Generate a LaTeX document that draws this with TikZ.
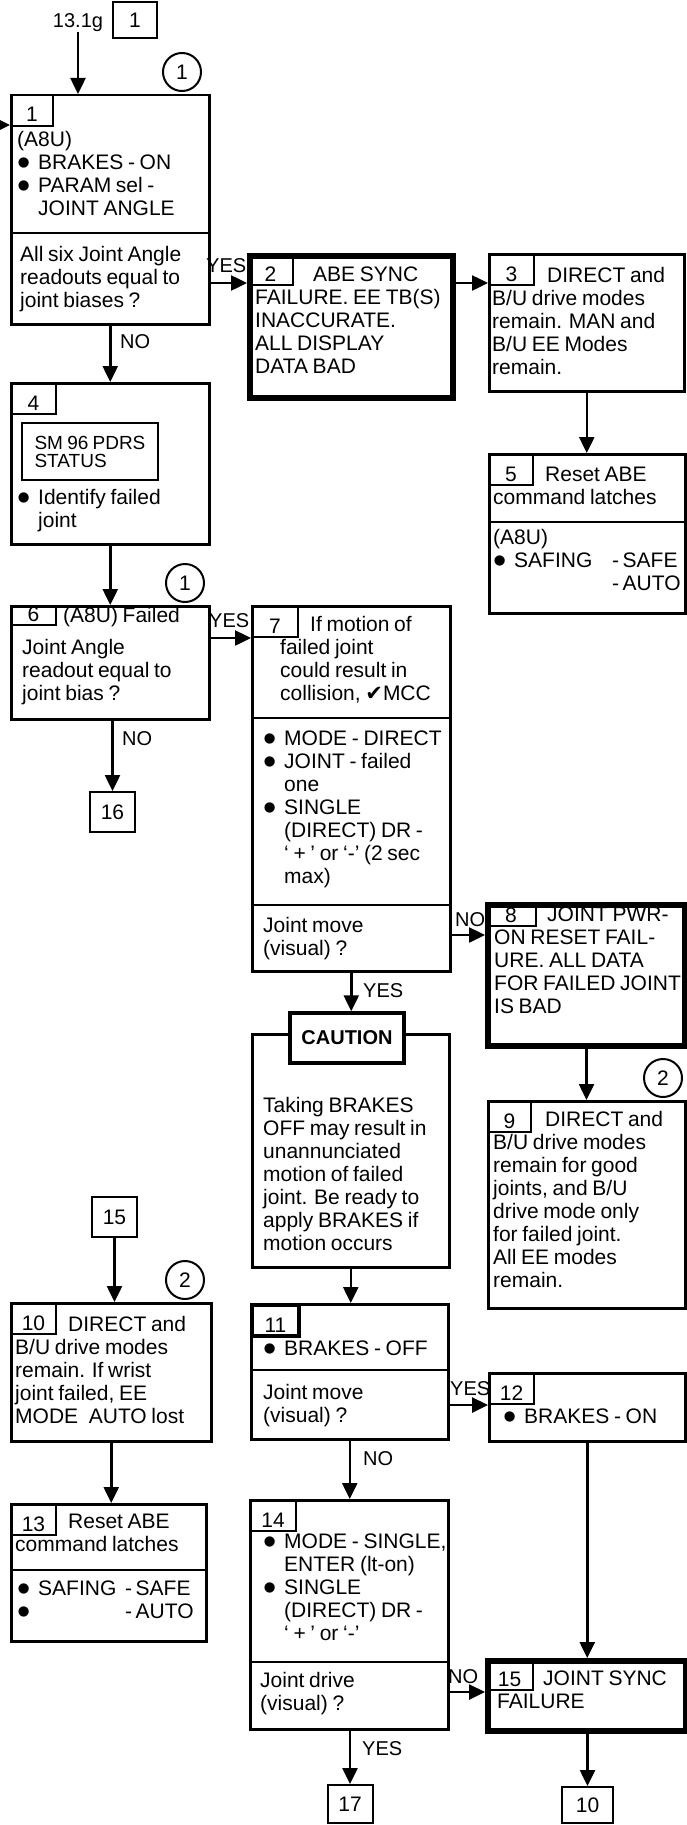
\documentclass[tikz,border=0pt]{standalone}
\usepackage{fontspec}
\setmainfont{Liberation Sans}[WordSpace=0.8]
\newfontfamily\checkfont{DejaVu Sans}
\usetikzlibrary{arrows.meta}

\newcommand\bul{\makebox[21pt][l]{\raisebox{-6pt}{\scalebox{1.8}{\textbullet}}}}
\newcommand\ind{\hspace*{21pt}}

\begin{document}
\begin{tikzpicture}[
    x=1pt, y=-1pt,
    box/.style={draw, line width=2.5pt, anchor=north west, inner sep=0pt},
    boldbox/.style={box, line width=6pt},
    tab/.style={draw, line width=2pt, anchor=north west, inner sep=0pt, minimum width=45pt, text height=27pt, text depth=4pt, font=\fontsize{21}{23}\selectfont},
    txt/.style={anchor=north west, yshift=16pt, inner sep=0pt, align=left, font=\fontsize{21}{23}\selectfont, execute at begin node={\rule{0pt}{16pt}}},
    lbl/.style={anchor=base west, inner sep=0pt, font=\fontsize{20}{22}\selectfont},
    refbox/.style={draw, line width=2pt, minimum width=45pt, minimum height=40pt, inner sep=0pt, font=\fontsize{21}{23}\selectfont},
    conn/.style={draw, circle, line width=2pt, minimum size=38pt, inner sep=0pt, font=\fontsize{21}{23}\selectfont},
    cautionbox/.style={draw, line width=3.5pt, fill=white, minimum width=114pt, minimum height=50pt, inner sep=0pt, font=\fontsize{20}{22}\selectfont\bfseries},
    divider/.style={line width=2.5pt},
    arr/.style={line width=2.5pt, -{Triangle[width=15pt,length=16pt]}}
]
\useasboundingbox (0,0) rectangle (686,1825);

% entry
\node[lbl, anchor=base] (src) at (78,28) {13.1g};
\node[refbox, minimum width=44pt, minimum height=36pt] (r1) at (135,20) {1};
\coordinate (in1) at (0,125);

% step 1
\node[box, minimum width=198pt, minimum height=229pt] (b1) at (10,94) {};
\node[tab, minimum width=42pt] (t1) at (b1.north west) {1};
\draw[divider] (b1.west |- 0,233) -- (b1.east |- 0,233);
\node[txt] (x1a) at (17,147) {(A8U)\\\bul BRAKES - ON\\\bul PARAM sel -\\\ind JOINT ANGLE};
\node[txt] (x1b) at (20,262) {All six Joint Angle\\readouts equal to\\joint biases ?};
\node[conn] (c1) at (182,72) {1};

% steps 2 and 3
\node[boldbox, minimum width=203pt, minimum height=142pt] (b2) at (247,253) {};
\node[tab] (t2) at (b2.north west) {2};
\node[txt] (x2) at (255,283) {\hspace*{58pt}ABE SYNC\\FAILURE.  EE TB(S)\\INACCURATE.\\ALL DISPLAY\\DATA BAD};

\node[box, minimum width=195pt, minimum height=137pt] (b3) at (488,253) {};
\node[tab] (t3) at (b3.north west) {3};
\node[txt] (x3) at (492,283) {\hspace*{55pt}DIRECT and\\B/U drive modes\\remain.  MAN and\\B/U EE Modes\\remain.};

% step 5
\node[box, minimum width=196pt, minimum height=159pt] (b5) at (488,453) {};
\node[tab, minimum width=44pt] (t5) at (b5.north west) {5};
\draw[divider] (b5.west |- 0,522) -- (b5.east |- 0,522);
\node[txt] (x5a) at (493,483) {\hspace*{52pt}Reset ABE\\command latches};
\node[txt] (x5b) at (493,545) {(A8U)\\\bul\makebox[98pt][l]{SAFING}-\,SAFE\\\hspace*{119pt}-\,AUTO};

% step 4
\node[box, minimum width=198pt, minimum height=161pt] (b4) at (10,382) {};
\node[tab] (t4) at (b4.north west) {4};
\node[draw, line width=2pt, minimum width=136pt, minimum height=57pt, inner sep=0pt, align=left, font=\fontsize{19}{18}\selectfont] (sm) at (90,451.5) {SM 96 PDRS\\STATUS};
\node[txt] (x4) at (17,505) {\bul Identify failed\\\ind joint};

% step 6
\node[box, minimum width=198pt, minimum height=113pt] (b6) at (10,605) {};
\node[tab, text height=15pt] (t6) at (b6.north west) {6};
\node[txt] (x6) at (22,623) {\hspace*{41pt}(A8U) Failed\\[9pt]Joint Angle\\readout equal to\\joint bias ?};
\node[conn] (c1b) at (185,583) {1};
\node[refbox] (r16) at (112.5,812) {16};

% step 7
\node[box, minimum width=198pt, minimum height=365pt] (b7) at (251,605) {};
\node[tab, minimum width=46pt] (t7) at (b7.north west) {7};
\draw[divider] (b7.west |- 0,718) -- (b7.east |- 0,718);
\draw[divider] (b7.west |- 0,905) -- (b7.east |- 0,905);
\node[txt] (x7a) at (280,632) {\hspace*{30pt}If motion of\\failed joint\\could result in\\collision, {\checkfont ✔}MCC};
\node[txt] (x7b) at (263,747) {\bul MODE - DIRECT\\\bul JOINT - failed\\\ind one\\\bul SINGLE\\\ind (DIRECT) DR -\\\ind ‘ + ’ or ‘-’ (2 sec\\\ind max)};
\node[txt] (x7c) at (263,933) {Joint move\\(visual) ?};

% steps 8 and 9
\node[boldbox, minimum width=197pt, minimum height=141pt] (b8) at (485,902) {};
\node[tab, minimum width=50pt, text height=19pt] (t8) at (b8.north west) {8};
\node[txt] (x8) at (494,923) {\hspace*{53pt}JOINT PWR-\\ON RESET FAIL-\\URE.  ALL DATA\\FOR FAILED JOINT\\IS BAD};

\node[box, minimum width=197pt, minimum height=207pt] (b9) at (487,1100) {};
\node[tab, minimum width=43pt] (t9) at (b9.north west) {9};
\node[txt] (x9) at (493,1127) {\hspace*{52pt}DIRECT and\\B/U drive modes\\remain for good\\joints, and B/U\\drive mode only\\for failed joint.\\All EE modes\\remain.};
\node[conn] (c2) at (663,1078) {2};

% caution
\node[box, minimum width=197pt, minimum height=233pt] (cbody) at (251,1033) {};
\node[cautionbox] (cau) at (347,1038) {CAUTION};
\node[txt] (xc) at (263,1113) {Taking BRAKES\\OFF may result in\\unannunciated\\motion of failed\\joint.  Be ready to\\apply BRAKES if\\motion occurs};

% step 10
\node[refbox] (r15) at (114.5,1217) {15};
\node[conn] (c2b) at (185,1280) {2};
\node[box, minimum width=200pt, minimum height=138pt] (b10) at (10,1302) {};
\node[tab] (t10) at (b10.north west) {10};
\node[txt] (x10) at (15,1332) {\hspace*{53pt}DIRECT and\\B/U drive modes\\remain.  If wrist\\joint failed, EE\\MODE\hspace{6pt} AUTO lost};

% steps 11 and 12
\node[box, minimum width=197pt, minimum height=135pt] (b11) at (250,1303) {};
\node[tab, minimum width=47pt, line width=4pt] (t11) at (b11.north west) {11};
\draw[divider] (b11.west |- 0,1370) -- (b11.east |- 0,1370);
\node[txt] (x11a) at (263,1355) {\bul BRAKES - OFF};
\node[txt] (x11b) at (263,1400) {Joint move\\(visual) ?};

\node[box, minimum width=196pt, minimum height=68pt] (b12) at (488,1372) {};
\node[tab] (t12) at (b12.north west) {12};
\node[txt] (x12) at (503,1423) {\bul BRAKES - ON};

% step 13
\node[box, minimum width=195pt, minimum height=137pt] (b13) at (10,1503) {};
\node[tab] (t13) at (b13.north west) {13};
\draw[divider] (b13.west |- 0,1570) -- (b13.east |- 0,1570);
\node[txt] (x13a) at (15,1530) {\hspace*{53pt}Reset ABE\\command latches};
\node[txt] (x13b) at (17,1597) {\bul\makebox[87pt][l]{SAFING}-\,SAFE\\\bul\makebox[87pt][l]{}-\,AUTO};

% steps 14 and 15
\node[box, minimum width=198pt, minimum height=229pt] (b14) at (249,1499) {};
\node[tab, minimum width=46pt] (t14) at (b14.north west) {14};
\draw[divider] (b14.west |- 0,1662) -- (b14.east |- 0,1662);
\node[txt] (x14a) at (263,1550) {\bul MODE - SINGLE,\\\ind ENTER (lt-on)\\\bul SINGLE\\\ind (DIRECT) DR -\\\ind ‘ + ’ or ‘-’};
\node[txt] (x14b) at (260,1688) {Joint drive\\(visual) ?};

\node[boldbox, minimum width=198pt, minimum height=70pt] (b15) at (485,1658) {};
\node[tab, minimum width=47pt] (t15) at (b15.north west) {15};
\node[txt] (x15) at (497,1687) {\hspace*{46pt}JOINT SYNC\\FAILURE};

\node[refbox, minimum height=38pt] (r17) at (350,1804) {17};
\node[refbox, minimum width=51pt, minimum height=36pt] (r10) at (587.5,1805) {10};

% connectors
\draw[arr] (src.south) -- (src.south |- b1.north);
\draw[arr] (in1) -- (b1.west |- in1);
\draw[arr] (b1.east |- 0,283) -- (b2.west |- 0,283);
\draw[arr] (b2.east |- 0,283) -- (b3.west |- 0,283);
\draw[arr] (b3.south) -- (b3.south |- b5.north);
\draw[arr] (b1.south) -- (b4.north);
\draw[arr] (b4.south) -- (b6.north);
\draw[arr] (b6.east |- 0,638) -- (b7.west |- 0,638);
\draw[arr] (b6.south -| r16) -- (r16.north);
\draw[arr] (b7.east |- 0,935) -- (b8.west |- 0,935);
\draw[arr] (b7.south) -- (b7.south |- cau.north);
\draw[arr] (b8.south) -- (b8.south |- b9.north);
\draw[arr] (cbody.south) -- (cbody.south |- b11.north);
\draw[arr] (r15.south) -- (r15.south |- b10.north);
\draw[arr] (b10.south) -- (b10.south |- b13.north);
\draw[arr] (b11.east |- 0,1405) -- (b12.west |- 0,1405);
\draw[arr] (b11.south) -- (b11.south |- b14.north);
\draw[arr] (b12.south) -- (b12.south |- b15.north);
\draw[arr] (b14.east |- 0,1692) -- (b15.west |- 0,1692);
\draw[arr] (b14.south -| r17) -- (r17.north);
\draw[arr] (b15.south -| r10) -- (r10.north);

\node[lbl] (l1) at (206,272) {YES};
\node[lbl] (l2) at (120,348) {NO};
\node[lbl] (l3) at (209,627) {YES};
\node[lbl] (l4) at (122,745) {NO};
\node[lbl] (l5) at (455,926) {NO};
\node[lbl] (l6) at (363,997) {YES};
\node[lbl] (l7) at (450,1395) {YES};
\node[lbl] (l8) at (363,1465) {NO};
\node[lbl] (l9) at (448,1683) {NO};
\node[lbl] (l10) at (362,1755) {YES};

\end{tikzpicture}
\end{document}
